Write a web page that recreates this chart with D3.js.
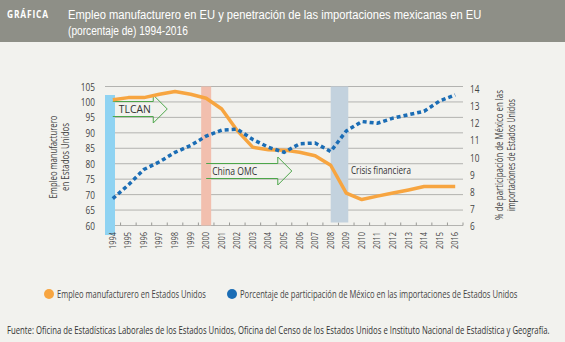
<!DOCTYPE html>
<html>
<head>
<meta charset="utf-8">
<script src="https://cdn.jsdelivr.net/npm/d3@7"></script>
<style>
  html, body { margin: 0; padding: 0; background: #f2f2ee; }
  svg { display: block; font-family: "Open Sans", sans-serif; }
</style>
</head>
<body>
<svg id="chart" width="565" height="342"></svg>
<script>
// years on the x axis
const years = d3.range(1994, 2017);

// manufacturing employment index (left axis)
const empleo = [100.7, 101.4, 101.4, 102.5, 103.4, 102.5, 101.2, 97.7, 90.7, 85.3, 84.5, 84.4,
                83.7, 82.6, 79.5, 70.5, 68.4, 69.5, 70.5, 71.5, 72.6, 72.6, 72.6];

// Mexico's share of US imports, % (right axis)
const participacion = [7.6, 8.4, 9.3, 9.75, 10.3, 10.7, 11.25, 11.6, 11.65, 11.05, 10.6, 10.3,
                       10.8, 10.85, 10.35, 11.55, 12.1, 12.0, 12.3, 12.5, 12.7, 13.3, 13.65];

const leftTicks = [60, 65, 70, 75, 80, 85, 90, 95, 100, 105];
const rightTicks = [6, 7, 8, 9, 10, 11, 12, 13, 14];

// shaded event markers
const eventYears = [1994, 2000, 2008];
const eventColors = ['#8fd3f2', '#f2bfae', '#c3d2de'];
const arrowLabels = ['TLCAN', 'China OMC'];
const arrowSpans = [[1994, 1997.5], [2000, 2005.5]];

const svg = d3.select('#chart');

// condensed text: place at (x, y), then squeeze horizontally to width w
function label(parent, x, y, txt, size, w, opts = {}) {
    const g = parent.append('g').attr('transform', `translate(${x},${y})${opts.rotate ? ' rotate(-90)' : ''}`);
    const t = g.append('text').attr('font-size', size).attr('fill', opts.fill || '#444')
        .attr('text-anchor', opts.anchor || 'start').text(txt);
    if (opts.family) t.attr('font-family', opts.family);
    if (opts.weight) t.attr('font-weight', opts.weight);
    if (opts.spacing) t.attr('letter-spacing', opts.spacing);
    const nat = t.node().getComputedTextLength();
    const k = w ? w / nat : (opts.k || 0.8);
    t.attr('transform', `scale(${k},1)`);
    return g;
}

// header band
svg.append('rect').attr('x', 0).attr('y', 0).attr('width', 565).attr('height', 42).attr('fill', '#8e8f87');
label(svg, 7, 18, 'GRÁFICA', 10, 42, { fill: '#fff', weight: 'bold', spacing: 1 });
const titleFont = '"Liberation Sans", Arial, sans-serif';
label(svg, 68, 18.5, 'Empleo manufacturero en EU y penetración de las importaciones mexicanas en EU', 13.5, 414, { fill: '#fff', family: titleFont });
label(svg, 68, 34.5, '(porcentaje de) 1994-2016', 13.5, 120, { fill: '#fff', family: titleFont });

const x = d3.scaleBand().domain(years).range([105, 463]);
const xc = d => x(d) + x.bandwidth() / 2;
const yL = d3.scaleLinear().domain([60, 105]).range([225.5, 86.5]);
const yR = d3.scaleLinear().domain([6, 14]).range([226, 89]);

// gridlines
svg.append('g').selectAll('line').data(leftTicks).join('line')
    .attr('x1', 105).attr('x2', 463)
    .attr('y1', d => yL(d)).attr('y2', d => yL(d))
    .attr('stroke', '#b3b3b0').attr('stroke-width', 1);

// x axis ticks at band edges
svg.append('g').selectAll('line').data(years).join('line')
    .attr('x1', d => x(d) + x.bandwidth()).attr('x2', d => x(d) + x.bandwidth())
    .attr('y1', yL(60) - 3).attr('y2', yL(60))
    .attr('stroke', '#9a9a96');

// event shading
const eventG = svg.append('g');
eventG.append('rect').attr('x', x(eventYears[0])).attr('width', 10)
    .attr('y', 95).attr('height', 140).attr('fill', eventColors[0]);
eventG.append('rect').attr('x', xc(eventYears[1]) - 5).attr('width', 10)
    .attr('y', yL(105)).attr('height', yL(60) - yL(105)).attr('fill', eventColors[1]);
eventG.append('rect').attr('x', xc(eventYears[2])).attr('width', xc(eventYears[2] + 1) - xc(eventYears[2]) + 2)
    .attr('y', yL(105)).attr('height', yL(60) - yL(105) - 3).attr('fill', eventColors[2]);

// hollow arrows
const xs = d3.scaleLinear().domain([1994, 2016]).range([xc(1994), xc(2016)]);
function arrow(span, yMid, txt, labelW) {
    const x0 = xs(span[0]), x1 = xs(span[1]);
    const hx = x1 - 14;
    svg.append('path')
        .attr('d', `M${x0},${yMid - 7.5} L${hx},${yMid - 7.5} L${hx},${yMid - 14} L${x1},${yMid} ` +
                   `L${hx},${yMid + 14} L${hx},${yMid + 7.5} L${x0},${yMid + 7.5}`)
        .attr('fill', 'none').attr('stroke', '#4da64a').attr('stroke-width', 1);
    label(svg, x0 + 6, yMid + 4, txt, 11, labelW, { fill: '#333' });
}
arrow(arrowSpans[0], 109, arrowLabels[0], 32);
arrow(arrowSpans[1], 171, arrowLabels[1], 45);

label(svg, 351, 174, 'Crisis financiera', 11, 60, { fill: '#333' });

// orange employment line
svg.append('path').datum(empleo)
    .attr('d', d3.line().x((d, i) => xc(years[i])).y(d => yL(d)))
    .attr('fill', 'none').attr('stroke', '#f7a540').attr('stroke-width', 3.5)
    .attr('stroke-linejoin', 'round');

// blue dotted share line
svg.append('path').datum(participacion)
    .attr('d', d3.line().x((d, i) => xc(years[i])).y(d => yR(d)))
    .attr('fill', 'none').attr('stroke', '#1b6db5').attr('stroke-width', 3.5)
    .attr('stroke-dasharray', '4,3');

// tick labels
leftTicks.forEach(d => label(svg, 95, yL(d) + 4, d, 11, null, { anchor: 'end', k: 0.75 }));
rightTicks.forEach(d => label(svg, 470, yR(d) + 4, d, 11, null, { k: 0.75 }));
years.forEach(d => label(svg, xc(d) + 3, 232, d, 9.5, 17, { anchor: 'end', rotate: true }));

// axis titles
label(svg, 57, 157, 'Empleo manufacturero', 11, 83, { anchor: 'middle', rotate: true });
label(svg, 69, 157, 'en Estados Unidos', 11, 68, { anchor: 'middle', rotate: true });
label(svg, 503, 155, '% de participación de México en las', 11, 130, { anchor: 'middle', rotate: true });
label(svg, 515, 155, 'importaciones de Estados Unidos', 11, 112, { anchor: 'middle', rotate: true });

// legend
const legend = [
    { text: 'Empleo manufacturero en Estados Unidos', color: '#f7a540', cx: 49, w: 149 },
    { text: 'Porcentaje de participación de México en las importaciones de Estados Unidos', color: '#1b6db5', cx: 232, w: 278 }
];
legend.forEach(l => {
    svg.append('circle').attr('cx', l.cx).attr('cy', 294).attr('r', 5).attr('fill', l.color);
    label(svg, l.cx + 8, 298, l.text, 11, l.w);
});

// source line
label(svg, 7, 334, 'Fuente: Oficina de Estadísticas Laborales de los Estados Unidos, Oficina del Censo de los Estados Unidos e Instituto Nacional de Estadística y Geografía.', 11, 543, { fill: '#333' });
</script>
</body>
</html>
